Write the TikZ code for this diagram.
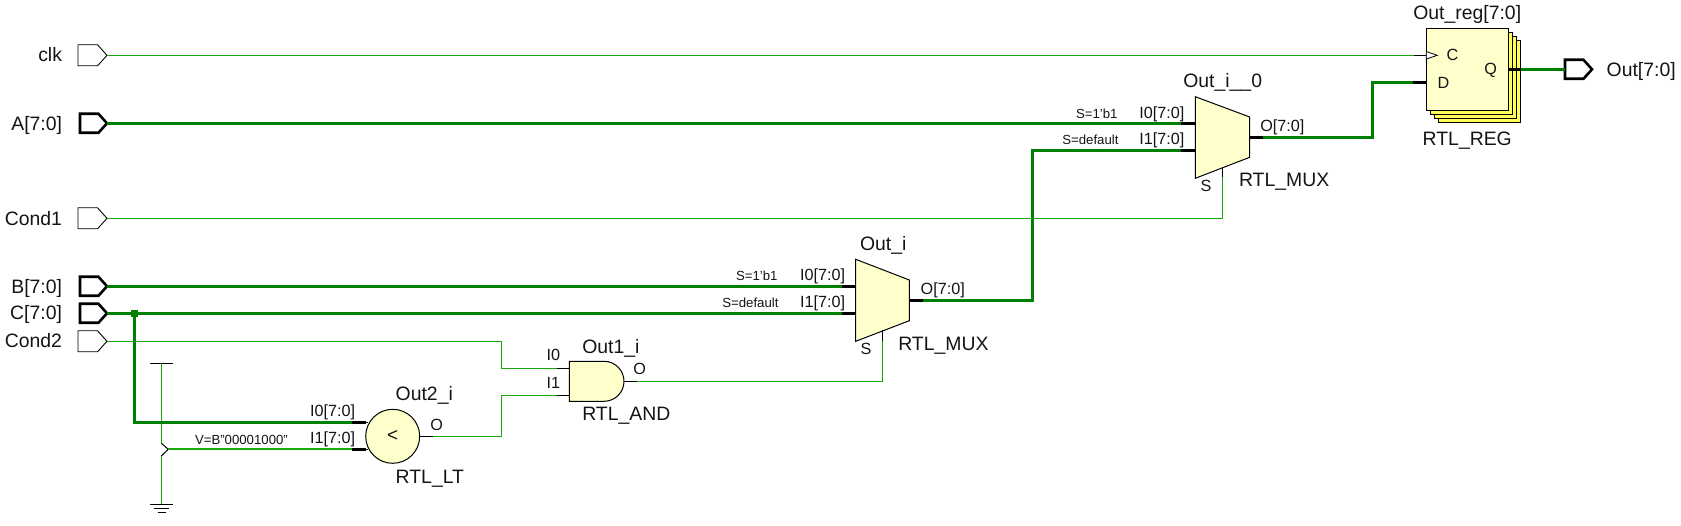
\documentclass[tikz,border=0pt]{standalone}
\usepackage{fontspec}
\setmainfont{Liberation Sans}
\usetikzlibrary{shapes.symbols}
\definecolor{wthin}{RGB}{24,170,8}
\definecolor{wthick}{RGB}{0,128,0}
\definecolor{body}{RGB}{255,255,204}
\definecolor{backbody}{RGB}{255,255,90}
\definecolor{ink}{RGB}{20,20,20}
\tikzset{
  x=1pt,y=-1pt,
  portbase/.style={signal,signal to=east,signal pointer angle=96,minimum width=29pt,minimum height=21pt,inner sep=0pt,outer sep=0pt,draw=black,fill=white,anchor=east,line join=miter},
  port/.style={portbase,line width=0.9pt},
  busport/.style={portbase,line width=2.6pt,minimum width=27pt,minimum height=19pt},
  thin wire/.style={draw=wthin,line width=1pt},
  bus wire/.style={draw=wthick,line width=3pt},
  const wire/.style={draw=wthin,line width=2pt},
  thin stub/.style={draw=black,line width=1pt},
  bus stub/.style={draw=black,line width=3pt},
  lbl/.style={inner sep=0pt,outer sep=0pt,anchor=base west,text=ink,font=\fontsize{19.4}{19.4}\selectfont},
  pin/.style={inner sep=0pt,outer sep=0pt,anchor=base west,text=ink,font=\fontsize{16.2}{16.2}\selectfont},
  tiny/.style={inner sep=0pt,outer sep=0pt,anchor=base west,text=ink,font=\fontsize{13.2}{13.2}\selectfont},
  portlbl/.style={inner sep=0pt,outer sep=0pt,anchor=base east,text=ink,font=\fontsize{19.4}{19.4}\selectfont},
  shapeline/.style={draw=black,fill=body,line width=1pt,line join=miter},
  regback/.style={draw=black,fill=backbody,line width=1pt,inner sep=0pt,outer sep=0pt,minimum width=82.4pt,minimum height=82pt,anchor=north west},
}
\begin{document}
\begin{tikzpicture}
\useasboundingbox (0,0) rectangle (1681,526);
% input ports
\node[port]    (clk)   at (107,55.3)  {};
\node[busport] (A)     at (107,123.3) {};
\node[port]    (Cond1) at (107,218.3) {};
\node[busport] (B)     at (107,286.3) {};
\node[busport] (C)     at (107,313.3) {};
\node[port]    (Cond2) at (107,341.3) {};
\node[portlbl] (lclk)   at (62,62)    {clk};
\node[portlbl] (lA)     at (62,130.5) {A[7:0]};
\node[portlbl] (lCond1) at (62,225.3) {Cond1};
\node[portlbl] (lB)     at (62,293.3) {B[7:0]};
\node[portlbl] (lC)     at (62,320)   {C[7:0]};
\node[portlbl] (lCond2) at (62,348)   {Cond2};
% register
\node[regback] (r3) at (1438.3,40.3) {};
\node[regback] (r2) at (1434.3,36.3) {};
\node[regback] (r1) at (1430.3,32.3) {};
\node[regback,fill=body] (reg) at (1426.3,28.3) {};
\coordinate (regC) at (1426.3,55.3);
\coordinate (regD) at (1426.3,82.3);
\coordinate (regQ) at (1508.7,69.3);
\coordinate (regCs) at (1414,55.3);
\coordinate (regDs) at (1413.3,82.3);
\coordinate (regQs) at (1520.7,69.3);
\draw[line width=0.8pt,fill=white] (regC) ++(0,-3.8) -- ++(11,3.8) -- ++(-11,3.8) -- cycle;
\node[pin] (tC) at (1446.7,61) {C};
\node[pin] (tD) at (1437.7,89) {D};
\node[pin] (tQ) at (1484.3,75) {Q};
\node[lbl] (regname) at (1413.3,20) {Out\_reg[7:0]};
\node[lbl] (regtype) at (1422.7,145.3) {RTL\_REG};
% output port
\node[busport] (Out) at (1592,69.3) {};
\node[lbl] (lOut) at (1606.7,77) {Out[7:0]};
% mux 2
\coordinate (m2a) at (1195.3,96.7);
\coordinate (m2b) at (1249.7,117);
\coordinate (m2c) at (1249.7,157.3);
\coordinate (m2d) at (1195.3,178.3);
\draw[shapeline] (m2a) -- (m2b) -- (m2c) -- (m2d) -- cycle;
\coordinate (m2i0) at (1195.3,123.3);
\coordinate (m2i1) at (1195.3,150.3);
\coordinate (m2i0s) at (1181,123.3);
\coordinate (m2i1s) at (1181,150.3);
\coordinate (m2o) at (1249.7,137.3);
\coordinate (m2os) at (1263,137.3);
\coordinate (m2s) at (1222.7,167.5);
\coordinate (m2ss) at (1222.7,177.3);
\node[lbl] (m2name) at (1183.3,87.3) {Out\_i\_\_0};
\node[pin] (m2ti0) at (1139.3,118.7) {I0[7:0]};
\node[pin] (m2ti1) at (1139.3,145) {I1[7:0]};
\node[tiny] (m2v0) at (1076,118.3) {S=1'b1};
\node[tiny] (m2v1) at (1062.3,145) {S=default};
\node[pin] (m2to) at (1260.3,132) {O[7:0]};
\node[pin] (m2ts) at (1200.7,192) {S};
\node[lbl] (m2type) at (1239,187) {RTL\_MUX};
% mux 1
\coordinate (m1a) at (855.7,259.3);
\coordinate (m1b) at (909.3,280);
\coordinate (m1c) at (909.3,320.7);
\coordinate (m1d) at (855.7,341.3);
\draw[shapeline] (m1a) -- (m1b) -- (m1c) -- (m1d) -- cycle;
\coordinate (m1i0) at (855.7,286.3);
\coordinate (m1i1) at (855.7,313.3);
\coordinate (m1i0s) at (841.7,286.3);
\coordinate (m1i1s) at (841.7,313.3);
\coordinate (m1o) at (909.3,300.3);
\coordinate (m1os) at (923.3,300.3);
\coordinate (m1s) at (882.7,330.5);
\coordinate (m1ss) at (882.7,341.3);
\node[lbl] (m1name) at (860,250.7) {Out\_i};
\node[pin] (m1ti0) at (800,280.7) {I0[7:0]};
\node[pin] (m1ti1) at (800,307.7) {I1[7:0]};
\node[tiny] (m1v0) at (736,280.7) {S=1'b1};
\node[tiny] (m1v1) at (722.3,307.7) {S=default};
\node[pin] (m1to) at (920.7,295) {O[7:0]};
\node[pin] (m1ts) at (860.7,355) {S};
\node[lbl] (m1type) at (898.3,350.3) {RTL\_MUX};
% and gate
\draw[shapeline] (569.3,361.3) -- (604,361.3) arc[start angle=90,end angle=-90,x radius=20pt,y radius=20pt] -- (569.3,401.3) -- cycle;
\coordinate (ai0) at (569.3,368.3);
\coordinate (ai1) at (569.3,395.3);
\coordinate (ai0s) at (557.3,368.3);
\coordinate (ai1s) at (557.3,395.3);
\coordinate (ao) at (624,381.3);
\coordinate (aos) at (636.7,381.3);
\node[lbl] (aname) at (582.3,353.7) {Out1\_i};
\node[pin] (ati0) at (546.7,361) {I0};
\node[pin] (ati1) at (546.7,388.3) {I1};
\node[pin] (ato) at (633.3,375) {O};
\node[lbl] (atype) at (582.3,420) {RTL\_AND};
% less-than
\node[circle,draw=black,fill=body,line width=1pt,minimum size=54pt,inner sep=0pt,outer sep=0pt,font=\fontsize{19}{19}\selectfont,text=ink] (lt) at (392.7,436.3) {<};
\coordinate (lti0) at (367.5,422.3);
\coordinate (lti1) at (367.5,449.3);
\coordinate (lti0s) at (352,422.3);
\coordinate (lti1s) at (352,449.3);
\coordinate (ltos) at (432.7,436.3);
\node[lbl] (ltname) at (395.7,400) {Out2\_i};
\node[pin] (ltti0) at (310,416.7) {I0[7:0]};
\node[pin] (ltti1) at (310,443.7) {I1[7:0]};
\node[tiny] (ltv) at (195,444) {V=B"00001000"};
\node[pin] (ltto) at (430.3,430) {O};
\node[lbl] (lttype) at (395.7,483.3) {RTL\_LT};
% constant source
\coordinate (vtop) at (161.3,363.3);
\coordinate (z1) at (161.3,443.3);
\coordinate (ztip) at (168.3,449.3);
\coordinate (z2) at (161.3,456);
\coordinate (gnd) at (161.3,504.3);
\draw[thin stub] (150,363.3) -- (173,363.3);
\draw[thin wire] (vtop) -- (z1);
\draw[thin stub] (z1) -- (ztip) -- (z2);
\draw[thin wire] (z2) -- (gnd);
\draw[thin stub] (150,504.3) -- (173,504.3) (154,508.3) -- (168.5,508.3) (157.5,512.3) -- (165.5,512.3);
\draw[const wire] (ztip) -- (lti1s);
% junction
\coordinate (jc) at (134.3,313.3);
% wires
\draw[thin wire] (clk.east) -- (regCs);
\draw[bus wire] (A.east) -- (m2i0s);
\draw[thin wire] (Cond1.east) -- (1222.7,218.3) -- (m2ss);
\draw[bus wire] (B.east) -- (m1i0s);
\draw[bus wire] (C.east) -- (m1i1s);
\draw[thin wire] (Cond2.east) -- (501.7,341.3) -- (501.7,368.3) -- (ai0s);
\draw[bus wire] (jc) -- (134.3,422.3) -- (lti0s);
\fill[wthick] (jc) ++(-3.5,-3.5) rectangle ++(7,7);
\draw[thin wire] (ltos) -- (501.7,436.3) -- (501.7,395.3) -- (ai1s);
\draw[thin wire] (aos) -- (882.7,381.3) -- (m1ss);
\draw[bus wire] (m1os) -- (1032.7,300.3) -- (1032.7,150.3) -- (m2i1s);
\draw[bus wire] (m2os) -- (1372.7,137.3) -- (1372.7,82.3) -- (regDs);
\draw[bus wire] (regQs) -- (Out.west);
% pin stubs
\draw[bus stub] (m2i0s) -- (m2i0);
\draw[bus stub] (m2i1s) -- (m2i1);
\draw[bus stub] (m2o) -- (m2os);
\draw[thin stub] (m2s) -- (m2ss);
\draw[bus stub] (m1i0s) -- (m1i0);
\draw[bus stub] (m1i1s) -- (m1i1);
\draw[bus stub] (m1o) -- (m1os);
\draw[thin stub] (m1s) -- (m1ss);
\draw[thin stub] (ai0s) -- (ai0);
\draw[thin stub] (ai1s) -- (ai1);
\draw[thin stub] (ao) -- (aos);
\draw[bus stub] (lti0s) -- (365.5,422.3);
\draw[bus stub] (lti1s) -- (365.5,449.3);
\draw[thin stub] (365.5,422.3) -- (lti0);
\draw[thin stub] (365.5,449.3) -- (lti1);
\draw[thin stub] (lt.east) -- (ltos);
\draw[thin stub] (regCs) -- (regC);
\draw[bus stub] (regDs) -- (regD);
\draw[bus stub] (regQ) -- (regQs);
\end{tikzpicture}
\end{document}
